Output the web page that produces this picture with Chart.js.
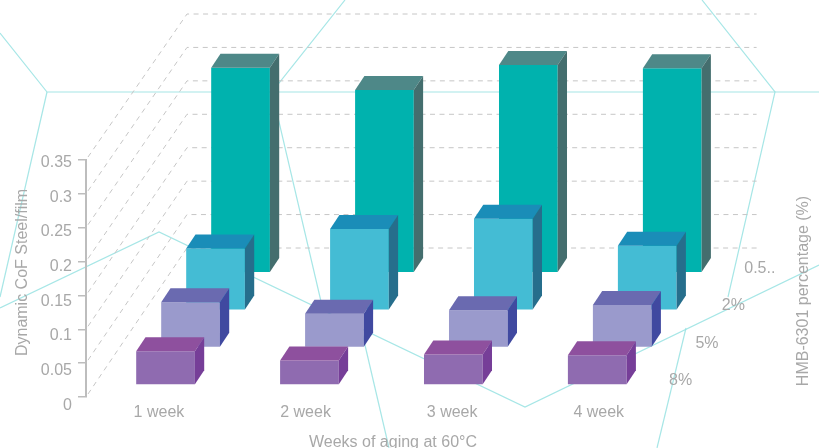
<!DOCTYPE html>
<html>
<head>
<meta charset="utf-8">
<style>html,body{margin:0;padding:0;background:#fff}canvas{display:block}</style>
<script src="https://cdn.jsdelivr.net/npm/chart.js@4/dist/chart.umd.min.js"></script>
</head>
<body>
<canvas id="c" width="819" height="448" style="width:819px;height:448px"></canvas>
<script>
const weeks = ['1 week', '2 week', '3 week', '4 week'];
const yTicks = [0, 0.05, 0.1, 0.15, 0.2, 0.25, 0.3, 0.35];
const pct8 = [0.05, 0.036, 0.045, 0.044];
const pct5 = [0.067, 0.05, 0.055, 0.063];
const pct2 = [0.091, 0.12, 0.135, 0.095];
const pct05 = [0.303, 0.27, 0.307, 0.302];
const depthLabels = ['8%', '5%', '2%', '0.5..'];
const xTitle = 'Weeks of aging at 60\u00B0C';
const yTitle = 'Dynamic CoF Steel/film';
const zTitle = 'HMB-6301 percentage (%)';

const TEXT = '#a8a8a8';
const FONT = '"Liberation Sans", Arial, sans-serif';
const faces = [
  {front: '#8f6bb0', top: '#8e509e', side: '#763e98'},
  {front: '#9a9acc', top: '#6a6ab0', side: '#4049a0'},
  {front: '#44bcd4', top: '#1a8db8', side: '#266e8c'},
  {front: '#00b2ae', top: '#4e8888', side: '#446e6e'}
];
const STEP_X = 25, STEP_Y = 37.4, BASE_X = 7.6, BASE_Y = 12, CAP_X = 9.3, CAP_Y = 14;

const backdropPaths = [
  [[0,33],[47,92],[819,92]],
  [[47,92],[0,297]],
  [[702,0],[775,92],[728,297]],
  [[345,0],[272,92],[323,310]],
  [[0,308],[159,232],[525,407],[819,265]],
  [[361,328],[389,448]],
  [[686,328],[657,448]]
];

const threeD = {
  id: 'threeD',
  afterDatasetsUpdate(chart) {
    chart.data.datasets.forEach((d, i) => {
      chart.getDatasetMeta(i).data.forEach(el => {
        el.x += BASE_X + STEP_X * i;
        el.y -= BASE_Y + STEP_Y * i;
        el.base -= BASE_Y + STEP_Y * i;
      });
    });
  },
  beforeDraw(chart) {
    const {ctx, scales: {x, y}} = chart;
    ctx.save();
    ctx.strokeStyle = 'rgba(150,226,226,0.85)';
    ctx.lineWidth = 1.2;
    backdropPaths.forEach(p => {
      ctx.beginPath();
      p.forEach((q, i) => i ? ctx.lineTo(q[0], q[1]) : ctx.moveTo(q[0], q[1]));
      ctx.stroke();
    });
    ctx.strokeStyle = '#c6c6c6';
    ctx.lineWidth = 1;
    ctx.setLineDash([5, 4.5]);
    yTicks.forEach(v => {
      const py = y.getPixelForValue(v);
      const by = py - 149 + 3 * (v / 0.35);
      ctx.beginPath();
      ctx.moveTo(x.left + 2, py - 3);
      ctx.lineTo(x.left + 101, by);
      ctx.lineTo(x.right + 95, by);
      ctx.stroke();
    });
    ctx.restore();
    y.getLabelItems(chart.chartArea).forEach((it, i) => {
      const v = y.ticks[i].value;
      it.textOffset = 0;
      it.options.translation = [72, y.getPixelForValue(v) + 2.5 + 6 * (1 - v / 0.35)];
      it.options.textAlign = 'right';
      it.options.textBaseline = 'middle';
    });
    x.getLabelItems(chart.chartArea).forEach((it, i) => {
      it.textOffset = 0;
      it.options.translation = [x.getPixelForTick(i) + 1 + 2.7 * i, 412.5];
      it.options.textAlign = 'center';
      it.options.textBaseline = 'middle';
    });
  },
  afterDatasetDraw(chart, args) {
    const f = faces[args.index], ctx = chart.ctx;
    args.meta.data.forEach(el => {
      const l = el.x - el.width / 2, r = el.x + el.width / 2;
      const t = el.y, b = el.base;
      ctx.fillStyle = f.top;
      ctx.beginPath();
      ctx.moveTo(l, t); ctx.lineTo(l + CAP_X, t - CAP_Y);
      ctx.lineTo(r + CAP_X, t - CAP_Y); ctx.lineTo(r, t);
      ctx.closePath(); ctx.fill();
      ctx.fillStyle = f.side;
      ctx.beginPath();
      ctx.moveTo(r, t); ctx.lineTo(r + CAP_X, t - CAP_Y);
      ctx.lineTo(r + CAP_X, b - CAP_Y); ctx.lineTo(r, b);
      ctx.closePath(); ctx.fill();
    });
  },
  afterDraw(chart) {
    const {ctx, scales: {x, y}} = chart;
    ctx.save();
    ctx.fillStyle = TEXT;
    ctx.font = '16px ' + FONT;
    ctx.textAlign = 'center';
    ctx.textBaseline = 'middle';
    depthLabels.forEach((s, i) => {
      ctx.fillText(s, x.right + 19 + i * 26.4, y.bottom - 16.5 - i * 37.4);
    });
    ctx.fillText(xTitle, 393, 442.5);
    ctx.save();
    ctx.translate(22.5, 272.5);
    ctx.rotate(-Math.PI / 2);
    ctx.fillText(yTitle, 0, 0);
    ctx.restore();
    ctx.save();
    ctx.translate(803.5, 291);
    ctx.rotate(-Math.PI / 2);
    ctx.fillText(zTitle, 0, 0);
    ctx.restore();
    ctx.restore();
  }
};

const seriesValues = [pct8, pct5, pct2, pct05];
new Chart(document.getElementById('c'), {
  type: 'bar',
  data: {
    labels: weeks,
    datasets: seriesValues.map((values, i) => ({
      label: depthLabels[i],
      data: values,
      backgroundColor: faces[i].front,
      borderWidth: 0,
      grouped: false,
      clip: false,
      barPercentage: 0.408,
      categoryPercentage: 1
    }))
  },
  options: {
    responsive: false,
    animation: false,
    devicePixelRatio: 1,
    layout: {padding: {top: 160, right: 157.4, bottom: 0, left: 0}},
    plugins: {legend: {display: false}, tooltip: {enabled: false}, title: {display: false}},
    scales: {
      x: {
        type: 'category',
        grid: {display: false},
        border: {display: false},
        ticks: {color: TEXT, font: {family: FONT, size: 16}, maxRotation: 0, autoSkip: false},
        afterFit(s) { s.height = 51; }
      },
      y: {
        type: 'linear',
        min: 0,
        max: 0.35,
        afterBuildTicks(s) { s.ticks = yTicks.map(v => ({value: v})); },
        grid: {drawOnChartArea: false, drawTicks: true, tickLength: 8, color: '#bdbdbd', lineWidth: 1.5},
        border: {display: true, color: '#bdbdbd', width: 2},
        ticks: {color: TEXT, font: {family: FONT, size: 16}, padding: 6, callback: v => String(v)},
        afterFit(s) { s.width = 86; }
      }
    }
  },
  plugins: [threeD]
});
</script>
</body>
</html>
